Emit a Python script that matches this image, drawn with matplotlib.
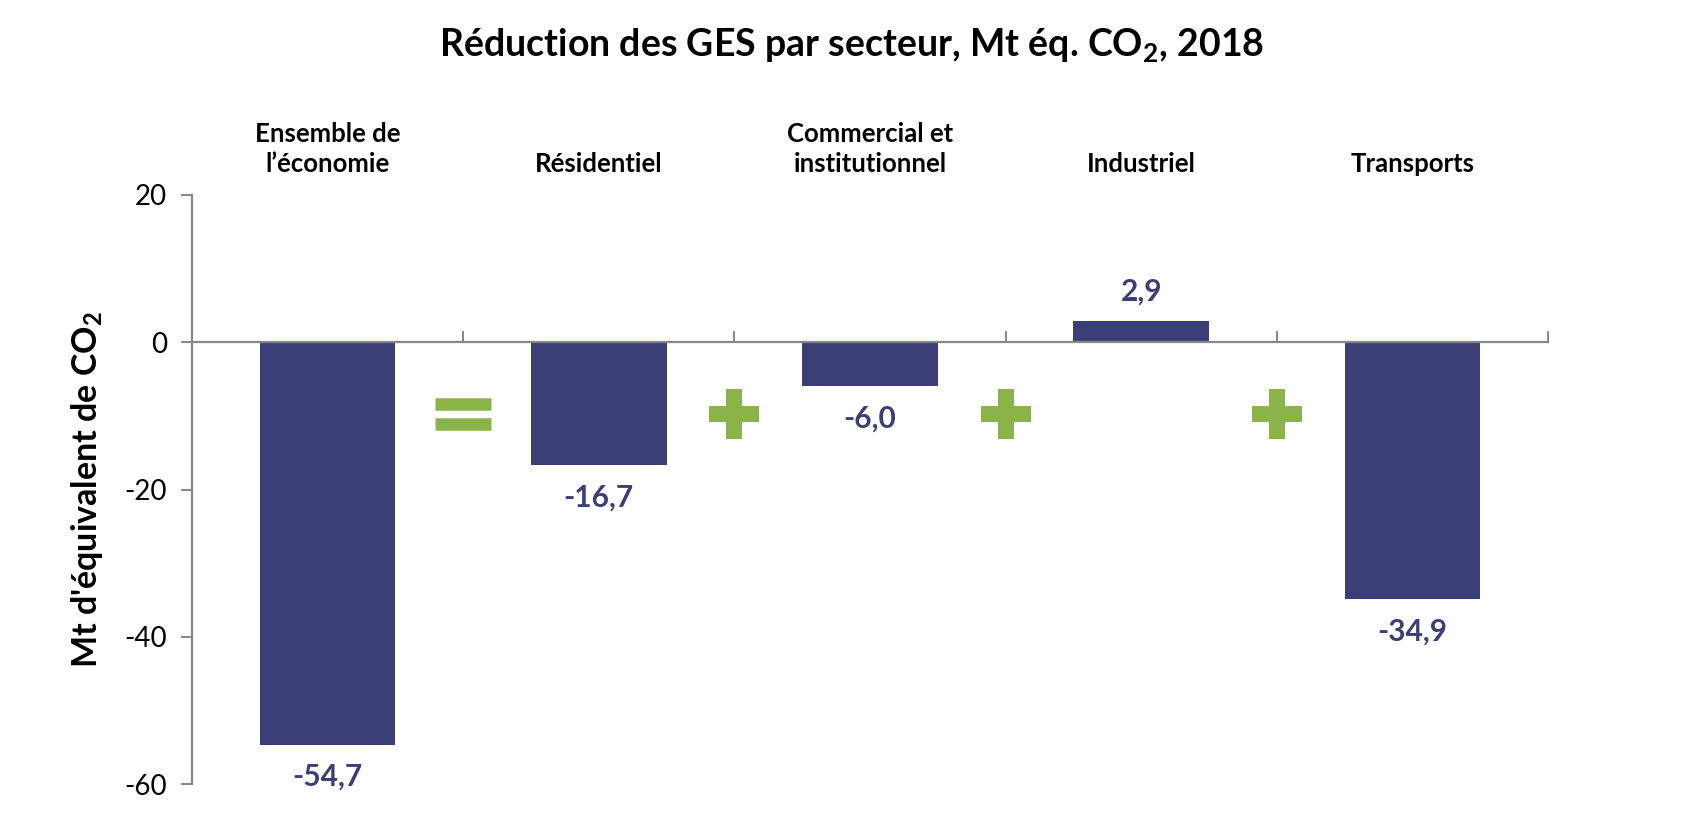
import matplotlib as mpl
import matplotlib.pyplot as plt
import numpy as np

plt.rcParams['font.family'] = ['Lato', 'DejaVu Sans']
plt.rcParams['mathtext.default'] = 'regular'
plt.rcParams['axes.unicode_minus'] = False

secteurs = ['Ensemble de\nl\u2019économie', 'Résidentiel', 'Commercial et\ninstitutionnel',
            'Industriel', 'Transports']
valeurs = [-54.7, -16.7, -6.0, 2.9, -34.9]
signes = ['=', '+', '+', '+']

bleu = '#3c3f75'
vert = '#8ab34a'
gris = '#878787'

fig = plt.figure(figsize=(17.03, 8.21), dpi=100)
ax = fig.add_axes([0.1127, 0.045, 0.7963, 0.7175])

x = np.arange(len(secteurs))
ax.bar(x, valeurs, width=0.5, color=bleu, zorder=2)

# étiquettes de valeurs
for xi, v in zip(x, valeurs):
    off = 21 if v > 0 else -23
    ax.annotate(f'{v:.1f}'.replace('.', ','), (xi, v), xytext=(0, off),
                textcoords='offset points', ha='center', va='center',
                fontsize=21.5, fontweight='bold', color=bleu)

# noms des secteurs au-dessus du graphique
for xi, nom in zip(x, secteurs):
    ax.annotate(nom, (xi, 1), xycoords=('data', 'axes fraction'), xytext=(0, 14),
                textcoords='offset points', ha='center', va='bottom',
                fontsize=18.5, fontweight='bold', linespacing=1.3)

# signes = et + entre les barres
for i, s in enumerate(signes):
    xs = i + 0.5
    if s == '+':
        ax.plot(xs, -9.7, marker='P', markersize=36, color=vert, markeredgewidth=0, zorder=3)
    else:
        ax.plot([xs, xs], [-8.45, -11.1], linestyle='none', marker='_', markersize=40,
                markeredgewidth=9, color=vert, zorder=3)

ax.set_xlim(-0.5, 4.5)
ax.set_ylim(-60, 20)
ax.set_yticks([20, 0, -20, -40, -60])
ax.set_xticks(np.arange(0.5, 5, 1))
ax.set_xticklabels([])

ax.spines['top'].set_visible(False)
ax.spines['right'].set_visible(False)
ax.spines['bottom'].set_position(('data', 0))
for sp in ['left', 'bottom']:
    ax.spines[sp].set_color(gris)
    ax.spines[sp].set_linewidth(1.6)
ax.tick_params(axis='x', direction='in', length=8, width=1.4, color=gris)
ax.tick_params(axis='y', direction='out', length=8, width=1.4, color=gris,
               labelsize=20, pad=10)

ax.set_ylabel("Mt d'équivalent de CO$_2$", fontsize=24.5, fontweight='bold', labelpad=14)
fig.suptitle('Réduction des GES par secteur, Mt éq. CO$_2$, 2018', x=0.5, y=0.968,
             fontsize=27, fontweight='bold')

fig.savefig('out.png', dpi=100)
